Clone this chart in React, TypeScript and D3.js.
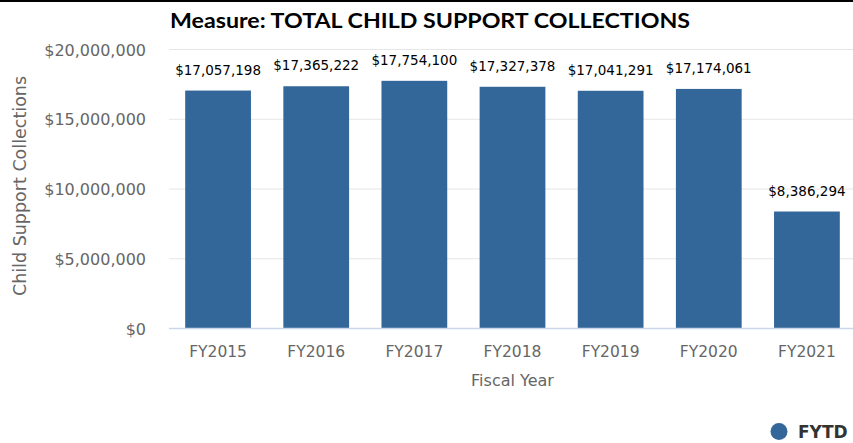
import React from "react";
import * as d3 from "d3";

const categories = ["FY2015", "FY2016", "FY2017", "FY2018", "FY2019", "FY2020", "FY2021"];
const values = [17057198, 17365222, 17754100, 17327378, 17041291, 17174061, 8386294];
const yTicks = [0, 5000000, 10000000, 15000000, 20000000];
const seriesName = "FYTD";
const title = "Measure: TOTAL CHILD SUPPORT COLLECTIONS";
const yTitle = "Child Support Collections";
const xTitle = "Fiscal Year";

const W = 853;
const H = 443;
const BAR = "#336699";
const fmt = d3.format("$,");

export default function App() {
  const x = d3.scaleBand<string>().domain(categories).range([169, 856]).paddingInner(0.33).paddingOuter(0.165);
  const y = d3.scaleLinear().domain([0, 20000000]).range([328.5, 49.5]);
  const font = "'DejaVu Sans', sans-serif";
  return (
    <svg width={W} height={H} style={{ position: "absolute", left: 0, top: 0, background: "#fff" }}>
      <rect x={0} y={0} width={W} height={2} fill="#000" />
      <text x={170} y={28} fontFamily="Lato, sans-serif" fontWeight="bold" fontSize={21} fill="#000" textLength={520} lengthAdjust="spacingAndGlyphs">
        {title}
      </text>
      {yTicks.map((t) => (
        <g key={t}>
          {t !== 0 && <line x1={169} x2={W} y1={y(t)} y2={y(t)} stroke="#e6e6e6" strokeWidth={1} />}
          <text x={146} y={y(t) + 6} textAnchor="end" fontFamily={font} fontSize={16} fill="#666">
            {fmt(t)}
          </text>
        </g>
      ))}
      <text transform={`translate(20,186) rotate(-90)`} textAnchor="middle" dominantBaseline="central" fontFamily={font} fontSize={17.5} fill="#666">
        {yTitle}
      </text>
      {categories.map((c, i) => {
        const bx = x(c)!;
        const bw = x.bandwidth();
        const top = y(values[i]);
        return (
          <g key={c}>
            <rect x={bx} y={top} width={bw} height={y(0) - top} fill={BAR} />
            <text x={bx + bw / 2} y={top - 16} textAnchor="middle" fontFamily={font} fontSize={13.5} fill="#000">
              {fmt(values[i])}
            </text>
            <text x={bx + bw / 2} y={357} textAnchor="middle" fontFamily={font} fontSize={15.5} fill="#666">
              {c}
            </text>
          </g>
        );
      })}
      <line x1={169} x2={W} y1={y(0)} y2={y(0)} stroke="#ccd6eb" strokeWidth={1.5} />
      <text x={512.5} y={386} textAnchor="middle" fontFamily={font} fontSize={16} fill="#666">
        {xTitle}
      </text>
      <circle cx={779} cy={431.5} r={8.5} fill={BAR} />
      <text x={798} y={438} fontFamily={font} fontWeight="bold" fontSize={17} fill="#333">
        {seriesName}
      </text>
    </svg>
  );
}
